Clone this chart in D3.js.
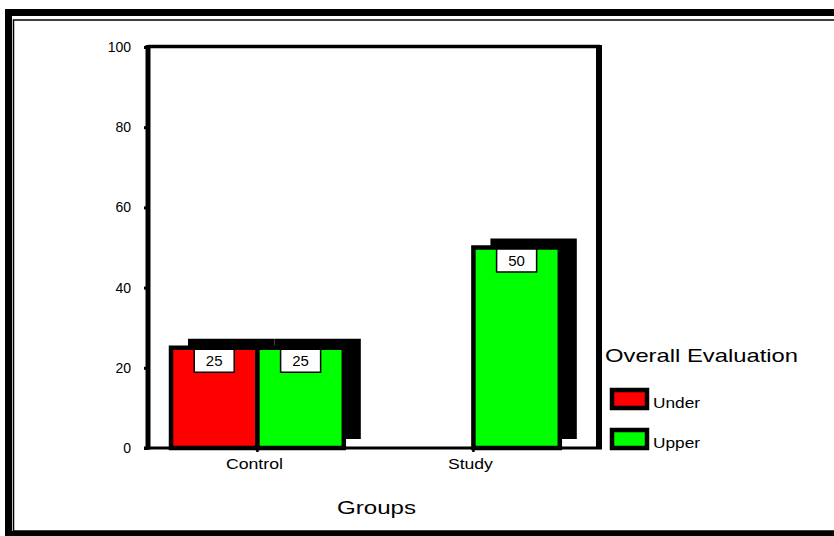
<!DOCTYPE html>
<html>
<head>
<meta charset="utf-8">
<script src="https://cdn.jsdelivr.net/npm/d3@7"></script>
<style>
    body { margin: 0; background: #fff; }
    text { font-family: "Liberation Sans", Arial, sans-serif; fill: #000; }
</style>
</head>
<body>
<div id="chart"></div>
<script>
const categories = ['Control', 'Study']
const series = ['Under', 'Upper']
const underValues = [25, null]
const upperValues = [25, 50]
const yTicks = [0, 20, 40, 60, 80, 100]
const colors = {'Under': '#ff0000', 'Upper': '#00ff00'}

const width = 834, height = 536
const plot = {left: 148, right: 599, top: 47, bottom: 448}
const shadow = {dx: 17, dy: -9}

const svg = d3.select('#chart').append('svg')
    .attr('width', width)
    .attr('height', height)

// double frame round the whole picture
svg.append('rect')
    .attr('x', 8.5).attr('y', 12.5)
    .attr('width', 900).attr('height', 522)
    .attr('fill', 'none').attr('stroke', '#000').attr('stroke-width', 7)
svg.append('rect')
    .attr('x', 13.5).attr('y', 20)
    .attr('width', 900).attr('height', 511)
    .attr('fill', 'none').attr('stroke', '#000').attr('stroke-width', 1.5)

const y = d3.scaleLinear().domain([0, 100]).range([plot.bottom, plot.top])
const x = d3.scaleBand().domain(categories)
    .range([plot.left, plot.right])
    .paddingInner(0.2).paddingOuter(0.144).align(0.37)
const xs = d3.scaleBand().domain(series).range([0, x.bandwidth()])

// rows of bars
const rows = []
categories.forEach((c, i) => {
    [underValues[i], upperValues[i]].forEach((v, j) => {
        if (v != null) rows.push({cat: c, ser: series[j], value: v})
    })
})

// black drop shadows
svg.append('g').selectAll('rect')
    .data(rows).enter().append('rect')
    .attr('x', d => x(d.cat) + xs(d.ser) + shadow.dx)
    .attr('y', d => y(d.value) + shadow.dy)
    .attr('width', xs.bandwidth())
    .attr('height', d => y(0) - y(d.value))
    .attr('fill', '#000')

// plot frame: top and right
svg.append('line')
    .attr('x1', plot.left).attr('x2', plot.right + 1)
    .attr('y1', plot.top - 0.5).attr('y2', plot.top - 0.5)
    .attr('stroke', '#000').attr('stroke-width', 3.5)
svg.append('line')
    .attr('x1', plot.right).attr('x2', plot.right)
    .attr('y1', plot.top - 2).attr('y2', plot.bottom)
    .attr('stroke', '#000').attr('stroke-width', 6)

// bars
svg.append('g').selectAll('rect')
    .data(rows).enter().append('rect')
    .attr('x', d => x(d.cat) + xs(d.ser))
    .attr('y', d => y(d.value))
    .attr('width', xs.bandwidth())
    .attr('height', d => y(0) - y(d.value))
    .attr('fill', d => colors[d.ser])
    .attr('stroke', '#000').attr('stroke-width', 4.5)

// value boxes
const boxes = svg.append('g').selectAll('g')
    .data(rows).enter().append('g')
    .attr('transform', d => `translate(${x(d.cat) + xs(d.ser) + xs.bandwidth() / 2}, ${y(d.value) + 1.5})`)
boxes.append('rect')
    .attr('x', -20).attr('y', 0)
    .attr('width', 40).attr('height', 23)
    .attr('fill', '#fff').attr('stroke', '#000').attr('stroke-width', 1.5)
boxes.append('text')
    .attr('y', 17)
    .attr('text-anchor', 'middle')
    .style('font-size', '15px')
    .text(d => d.value)

// y axis
const yAxis = svg.append('g')
    .attr('transform', `translate(${plot.left}, 0)`)
    .call(d3.axisLeft(y).tickValues(yTicks).tickSize(4).tickPadding(13))
yAxis.select('.domain').remove()
yAxis.selectAll('.tick line').attr('stroke-width', 3)
yAxis.selectAll('.tick text').style('font-size', '14px').style('font-family', '"Liberation Sans", Arial, sans-serif')
svg.append('line')
    .attr('x1', plot.left).attr('x2', plot.left)
    .attr('y1', plot.top - 2).attr('y2', plot.bottom + 1.5)
    .attr('stroke', '#000').attr('stroke-width', 5)

// x axis baseline
svg.append('line')
    .attr('x1', plot.left - 4).attr('x2', plot.right + 3)
    .attr('y1', plot.bottom).attr('y2', plot.bottom)
    .attr('stroke', '#000').attr('stroke-width', 3)
const xAxis = svg.append('g')
    .attr('transform', `translate(0, ${plot.bottom})`)
    .call(d3.axisBottom(x).tickSize(4).tickPadding(8))
xAxis.select('.domain').remove()
xAxis.selectAll('.tick line').attr('stroke-width', 2.5)
xAxis.selectAll('.tick text').remove()
const catLabelW = {'Control': 57, 'Study': 45}
svg.append('g').selectAll('text')
    .data(categories).enter().append('text')
    .attr('x', d => x(d) + x.bandwidth() / 2 - 3 - catLabelW[d] / 2)
    .attr('y', 469)
    .attr('textLength', d => catLabelW[d])
    .attr('lengthAdjust', 'spacingAndGlyphs')
    .style('font-size', '15px')
    .text(d => d)

svg.append('text')
    .attr('x', 337).attr('y', 514)
    .attr('textLength', 79).attr('lengthAdjust', 'spacingAndGlyphs')
    .style('font-size', '18px')
    .text('Groups')

// legend
svg.append('text')
    .attr('x', 605).attr('y', 362)
    .attr('textLength', 193).attr('lengthAdjust', 'spacingAndGlyphs')
    .style('font-size', '19px')
    .text('Overall Evaluation')
const legend = svg.append('g').selectAll('g')
    .data(series).enter().append('g')
    .attr('transform', (d, i) => `translate(612, ${390 + i * 40})`)
legend.append('rect')
    .attr('width', 35).attr('height', 18)
    .attr('fill', d => colors[d])
    .attr('stroke', '#000').attr('stroke-width', 4.5)
legend.append('text')
    .attr('x', 41).attr('y', 18)
    .attr('textLength', 47).attr('lengthAdjust', 'spacingAndGlyphs')
    .style('font-size', '14px')
    .text(d => d)
</script>
</body>
</html>
